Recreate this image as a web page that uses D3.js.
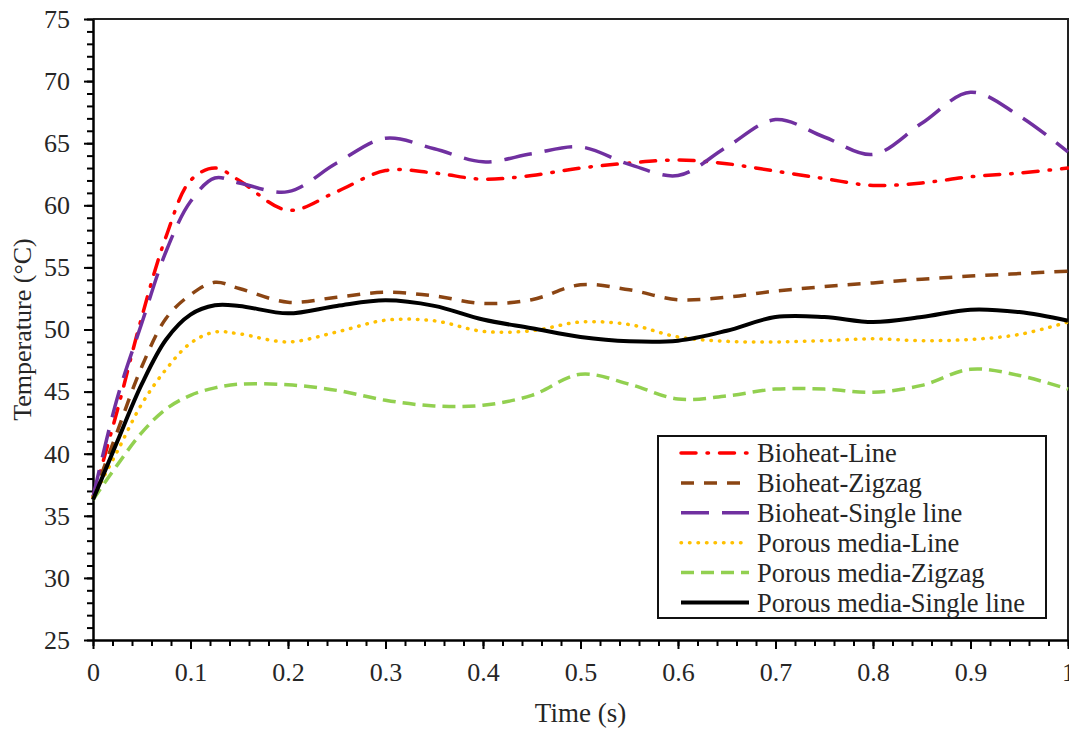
<!DOCTYPE html>
<html>
<head>
<meta charset="utf-8">
<script src="https://cdn.jsdelivr.net/npm/d3@7"></script>
<style>
  body { margin: 0; background: #fff; }
  text { font-family: "Liberation Serif", "Times New Roman", serif; fill: #262626; }
</style>
</head>
<body>
<svg id="chart" width="1069" height="730"></svg>
<script>
// time axis (s)
var time = [0, 0.025, 0.05, 0.075, 0.1, 0.125, 0.15, 0.2, 0.25, 0.3, 0.35, 0.4, 0.45,
	0.5, 0.55, 0.6, 0.65, 0.7, 0.75, 0.8, 0.85, 0.9, 0.95, 1];

// temperatures (°C)
var bioheatLine = [36.5, 43.5, 51.0, 57.5, 62.0, 63.0, 62.0, 59.6, 61.1, 62.8, 62.6, 62.1, 62.4,
	63.0, 63.4, 63.65, 63.35, 62.75, 62.15, 61.6, 61.8, 62.3, 62.6, 63.0];
var bioheatZigzag = [36.5, 41.8, 47.0, 50.9, 52.8, 53.8, 53.3, 52.2, 52.6, 53.0, 52.7, 52.1, 52.4,
	53.6, 53.2, 52.4, 52.6, 53.1, 53.45, 53.75, 54.05, 54.3, 54.5, 54.7];
var bioheatSingle = [36.5, 44.5, 50.5, 56.3, 60.3, 62.2, 61.8, 61.1, 63.4, 65.4, 64.55, 63.5, 64.15,
	64.7, 63.3, 62.4, 64.7, 66.9, 65.5, 64.1, 66.6, 69.1, 67.2, 64.3];
var porousLine = [36.5, 40.2, 44.0, 46.8, 48.9, 49.8, 49.65, 49.0, 49.8, 50.75, 50.7, 49.85, 49.9,
	50.6, 50.4, 49.4, 49.05, 49.0, 49.1, 49.25, 49.1, 49.2, 49.6, 50.6];
var porousZigzag = [36.3, 39.1, 41.7, 43.6, 44.7, 45.3, 45.6, 45.55, 45.1, 44.3, 43.85, 43.9, 44.7,
	46.4, 45.6, 44.4, 44.65, 45.2, 45.2, 44.95, 45.5, 46.8, 46.3, 45.2];
var porousSingle = [36.3, 41.0, 45.6, 49.2, 51.2, 51.95, 51.9, 51.3, 51.9, 52.35, 51.9, 50.8, 50.1,
	49.4, 49.05, 49.1, 49.9, 51.0, 51.0, 50.6, 51.0, 51.6, 51.4, 50.7];

var seriesNames = ["Bioheat-Line", "Bioheat-Zigzag", "Bioheat-Single line",
	"Porous media-Line", "Porous media-Zigzag", "Porous media-Single line"];
var seriesValues = [bioheatLine, bioheatZigzag, bioheatSingle, porousLine, porousZigzag, porousSingle];

var yTicks = d3.range(25, 76, 5);
var xTicks = d3.range(0, 11).map(function(d) { return d / 10; });

// line styles
var styles = [
	{ color: "#ff0000", dash: "15,11,1.5,11", cap: "round", width: 3.5 },
	{ color: "#8b4513", dash: "13,10", cap: "butt", width: 3.5 },
	{ color: "#7030a0", dash: "28,13", cap: "butt", width: 3.5 },
	{ color: "#ffc000", dash: "0.5,8", cap: "round", width: 3.5 },
	{ color: "#92d050", dash: "13,7", cap: "butt", width: 3.5 },
	{ color: "#000000", dash: null, cap: "butt", width: 4 }
];

var svg = d3.select("#chart");
var plotL = 93, plotT = 19, plotR = 1068, plotB = 640;

var x = d3.scaleLinear().domain([0, 1]).range([plotL, plotR]);
var y = d3.scaleLinear().domain([25, 75]).range([plotB, plotT]);

// plot frame (top and right)
svg.append("path")
	.attr("d", "M" + plotL + "," + plotT + "H" + plotR + "V" + plotB)
	.attr("fill", "none").attr("stroke", "#222").attr("stroke-width", 2);

// minor ticks
svg.append("g").attr("transform", "translate(" + plotL + ",0)")
	.call(d3.axisLeft(y).tickValues(d3.range(25, 76, 1)).tickSize(6).tickFormat(""))
	.call(function(g) { g.select(".domain").remove(); g.selectAll("line").attr("stroke-width", 2); });
svg.append("g").attr("transform", "translate(0," + plotB + ")")
	.call(d3.axisBottom(x).tickValues(d3.range(0, 51).map(function(d) { return d / 50; })).tickSize(6).tickFormat(""))
	.call(function(g) { g.select(".domain").remove(); g.selectAll("line").attr("stroke-width", 2); });

// major ticks + labels
var yAxis = svg.append("g").attr("transform", "translate(" + plotL + ",0)")
	.call(d3.axisLeft(y).tickValues(yTicks).tickSize(9).tickPadding(14).tickSizeOuter(0));
var xAxis = svg.append("g").attr("transform", "translate(0," + plotB + ")")
	.call(d3.axisBottom(x).tickValues(xTicks).tickSize(9).tickPadding(14).tickSizeOuter(0)
		.tickFormat(function(d) { return d === 0 ? "0" : d === 1 ? "1" : d3.format(".1f")(d); }));
[yAxis, xAxis].forEach(function(g) {
	g.selectAll("line").attr("stroke-width", 2);
	g.select(".domain").attr("stroke-width", 2.5);
	g.selectAll("text").style("font-family", "Liberation Serif").style("font-size", "26px").attr("fill", "#262626");
});

// axis titles
svg.append("text").attr("x", (plotL + plotR) / 2).attr("y", 722)
	.attr("text-anchor", "middle").style("font-size", "27px").text("Time (s)");
svg.append("text").attr("transform", "translate(31," + ((plotT + plotB) / 2) + ") rotate(-90)")
	.attr("text-anchor", "middle").style("font-size", "26px").text("Temperature (°C)");

// series
var line = d3.line()
	.x(function(d, i) { return x(time[i]); })
	.y(function(d) { return y(d); })
	.curve(d3.curveCatmullRom.alpha(0.5));

svg.append("g").selectAll("path").data(seriesValues).enter().append("path")
	.attr("d", line)
	.attr("fill", "none")
	.attr("stroke", function(d, i) { return styles[i].color; })
	.attr("stroke-width", function(d, i) { return styles[i].width; })
	.attr("stroke-dasharray", function(d, i) { return styles[i].dash; })
	.attr("stroke-linecap", function(d, i) { return styles[i].cap; });

// legend
var legend = svg.append("g");
legend.append("rect").attr("x", 658).attr("y", 436).attr("width", 388).attr("height", 182)
	.attr("fill", "#fff").attr("stroke", "#111").attr("stroke-width", 2);
var rows = legend.selectAll("g.row").data(seriesNames).enter().append("g")
	.attr("class", "row")
	.attr("transform", function(d, i) { return "translate(0," + (453 + i * 29.9) + ")"; });
rows.append("line").attr("x1", 681).attr("x2", 749).attr("y1", 0).attr("y2", 0)
	.attr("stroke", function(d, i) { return styles[i].color; })
	.attr("stroke-width", function(d, i) { return styles[i].width; })
	.attr("stroke-dasharray", function(d, i) { return styles[i].dash; })
	.attr("stroke-linecap", function(d, i) { return styles[i].cap; });
rows.append("text").attr("x", 757).attr("y", 9).style("font-size", "26.5px").text(function(d) { return d; });
</script>
</body>
</html>
